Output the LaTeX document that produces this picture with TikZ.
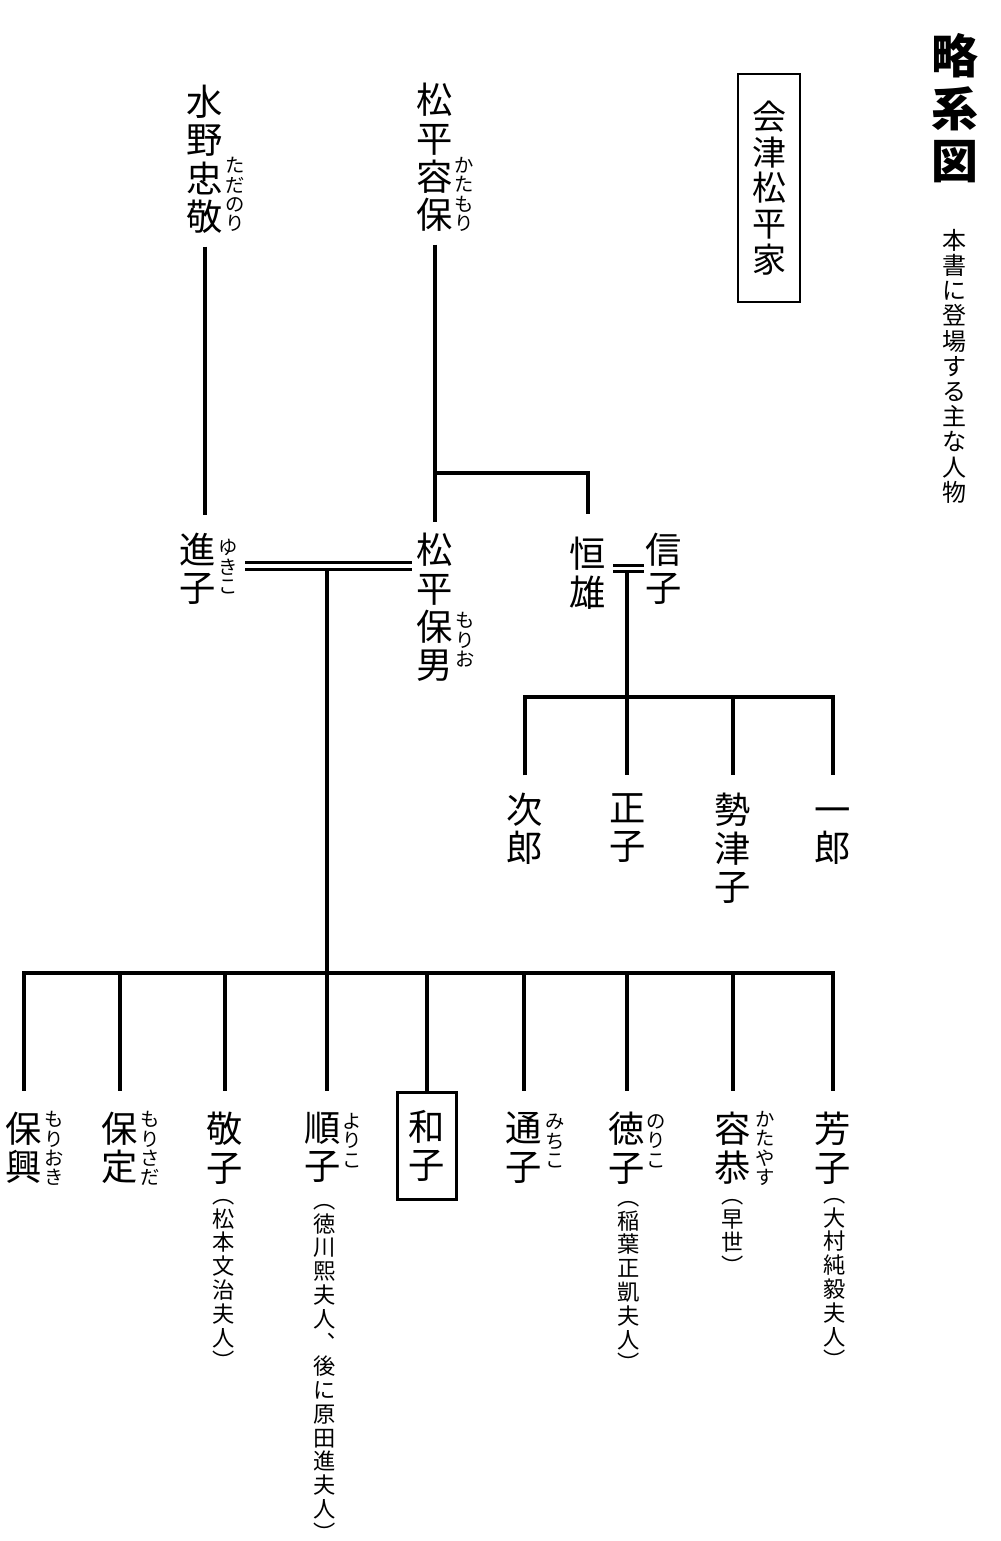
\documentclass[tikz,border=0pt]{standalone}
\usepackage{fontspec}
\newfontfamily\jp{Noto Sans CJK JP}
\usepackage{tikz}

\begin{document}
\begin{tikzpicture}[
    x=0.03cm, y=-0.03cm,
    person/.style={font=\jp\fontsize{31}{32.7}\selectfont, align=center, inner sep=0pt, anchor=north},
    ruby/.style={font=\jp\fontsize{16.5}{16.6}\selectfont, align=center, inner sep=0pt, anchor=north},
    memo/.style={font=\jp\fontsize{19}{20.3}\selectfont, align=center, inner sep=0pt, anchor=north},
    kin/.style={line width=3pt},
    wed/.style={line width=2.8pt, double, double distance=2.6pt}
]
\useasboundingbox (0,0) rectangle (1000,1541);

% Title
\node[font=\jp\bfseries\fontsize{40}{45}\selectfont, align=center, inner sep=0pt, anchor=north] (title) at (955,33) {略\\系\\図};
\node[font=\jp\fontsize{20.5}{21.5}\selectfont, align=center, inner sep=0pt, anchor=north] (subtitle) at (954,229) {本\\書\\に\\登\\場\\す\\る\\主\\な\\人\\物};
\node[person, font=\jp\fontsize{29}{30.5}\selectfont, draw, line width=1.5pt, minimum width=53pt, minimum height=195pt] (house) at (769,73) {会\\津\\松\\平\\家};

% Parents
\node[person] (mizuno) at (205,85) {水\\野\\忠\\敬};
\node[ruby] (mizuno-r) at (235,157) {た\\だ\\の\\り};
\node[person] (katamori) at (435,83) {松\\平\\容\\保};
\node[ruby] (katamori-r) at (464,157) {か\\た\\も\\り};

% Couples
\node[person] (yukiko) at (198,533) {進\\子};
\node[ruby] (yukiko-r) at (228,539) {ゆ\\き\\こ};
\node[person] (morio) at (435,533) {松\\平\\保\\男};
\node[ruby] (morio-r) at (465,612) {も\\り\\お};
\node[person] (tsuneo) at (588,537) {恒\\雄};
\node[person] (nobuko) at (664,533) {信\\子};

% Children of Tsuneo
\node[person] (jiro) at (525,793) {次\\郎};
\node[person] (masako) at (628,793) {正\\子};
\node[person] (setsuko) at (733,793) {勢\\津\\子};
\node[person] (ichiro) at (833,793) {一\vphantom{郎}\\郎};

% Children of Morio
\node[person] (yasuoki) at (24,1112) {保\\興};
\node[ruby] (yasuoki-r) at (54,1111) {も\\り\\お\\き};
\node[person] (yasusada) at (120,1112) {保\\定};
\node[ruby] (yasusada-r) at (150,1111) {も\\り\\さ\\だ};
\node[person] (keiko) at (225,1112) {敬\\子};
\node[memo] (keiko-n) at (224,1199) {︵\\松\\本\\文\\治\\夫\\人\\︶};
\node[person] (junko) at (323,1112) {順\\子};
\node[ruby] (junko-r) at (352,1113) {よ\\り\\こ};
\node[memo] (junko-n) at (325,1204) {︵\\徳\\川\\熙\\夫\\人\\︑\\後\\に\\原\\田\\進\\夫\\人\\︶};
\node[person, draw, line width=2.5pt, minimum width=50pt, minimum height=91pt] (kazuko) at (427,1091) {和\\子};
\node[person] (michiko) at (524,1112) {通\\子};
\node[ruby] (michiko-r) at (555,1114) {み\\ち\\こ};
\node[person] (noriko) at (627,1112) {徳\\子};
\node[ruby] (noriko-r) at (656,1114) {の\\り\\こ};
\node[memo] (noriko-n) at (629,1201) {︵\\稲\\葉\\正\\凱\\夫\\人\\︶};
\node[person] (katayasu) at (733,1112) {容\\恭};
\node[ruby] (katayasu-r) at (765,1111) {か\\た\\や\\す};
\node[memo] (katayasu-n) at (733,1199) {︵\\早\\世\\︶};
\node[person] (yoshiko) at (833,1112) {芳\\子};
\node[memo] (yoshiko-n) at (835,1198) {︵\\大\\村\\純\\毅\\夫\\人\\︶};

% Lines
\coordinate (kbr) at (435,473);
\coordinate (wedA) at (245,566);
\coordinate (wedB) at (412,566);
\coordinate (wedmid) at (327,566);
\coordinate (wedC) at (613,568.5);
\coordinate (wedD) at (644,568.5);
\coordinate (wedmid2) at (627,568.5);
\coordinate (bar) at (327,973);
\coordinate (bar2) at (627,697);

\draw[kin, shorten <=11pt, shorten >=15pt] (mizuno.south) -- (mizuno.south |- yukiko.north);
\draw[kin, shorten <=11pt, shorten >=9pt] (katamori) -- (morio);
\draw[kin] (kbr) -| ([yshift=20pt]tsuneo.north);

\draw[kin, shorten >=18pt] (wedmid) -- (wedmid |- junko.north);
\draw[wed] (wedA) -- (wedB);
\draw[kin] ([yshift=18pt]yasuoki.north) |- (bar) -| ([yshift=18pt]yoshiko.north);
\foreach \c in {yasusada, keiko, michiko, noriko, katayasu}
    \draw[kin] (\c.north |- bar) -- ([yshift=18pt]\c.north);
\draw[kin] (kazuko.north |- bar) -- (kazuko.north);

\draw[kin, shorten >=15pt] (wedmid2) -- (wedmid2 |- masako.north);
\draw[wed] (wedC) -- (wedD);
\draw[kin] ([yshift=15pt]jiro.north) |- (bar2) -| ([yshift=15pt]ichiro.north);
\draw[kin] (setsuko.north |- bar2) -- ([yshift=15pt]setsuko.north);

\end{tikzpicture}
\end{document}
